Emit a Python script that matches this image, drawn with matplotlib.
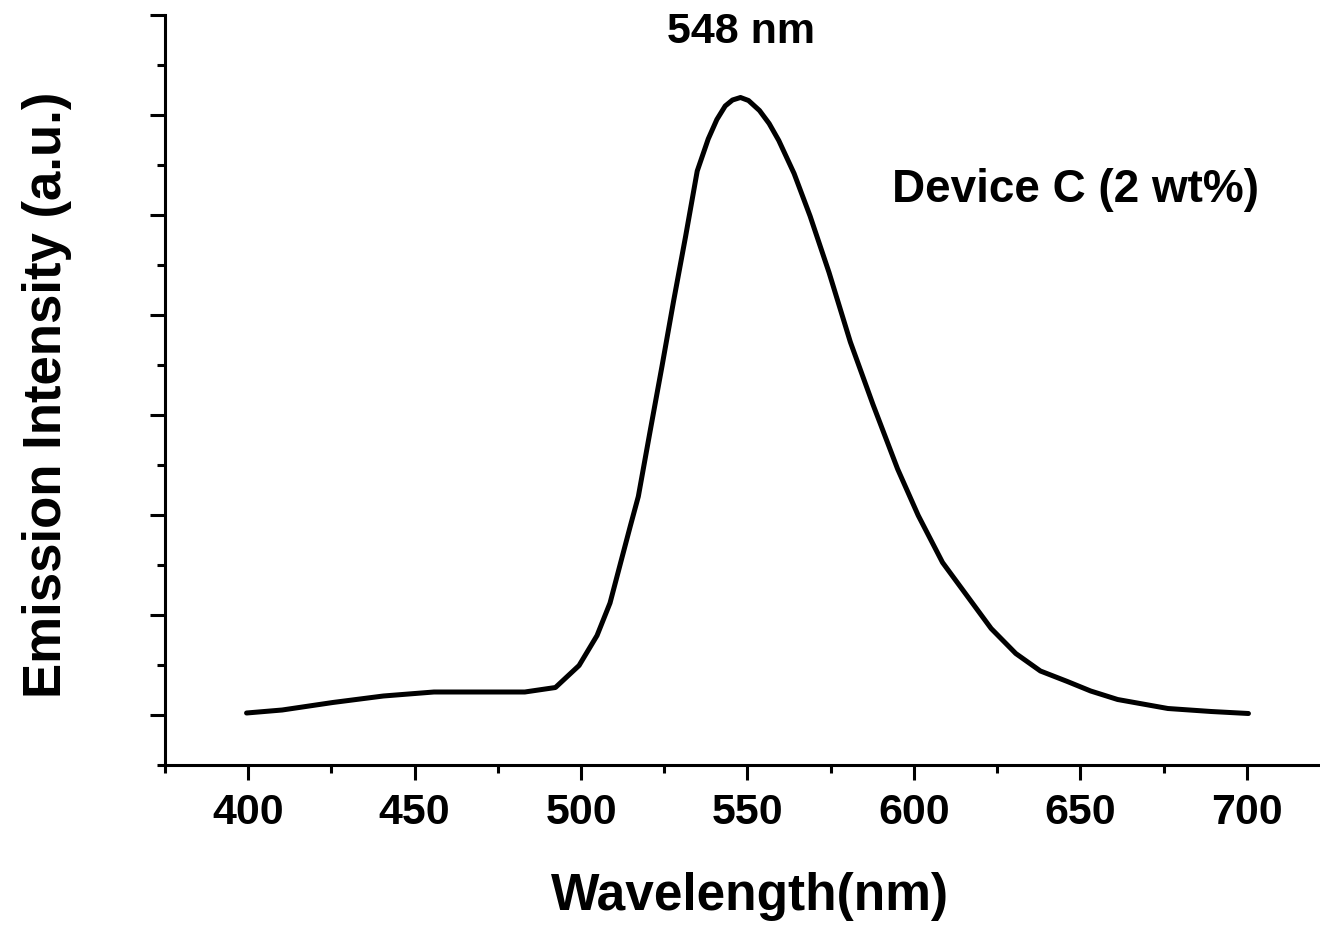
import matplotlib
matplotlib.use('Agg')
import matplotlib.pyplot as plt
from matplotlib.ticker import MultipleLocator, NullFormatter

# spectrum (intensity in arbitrary units)
wavelength = [399.5, 410.2, 425.4, 440.6, 455.8, 471.0, 483.1, 492.3, 499.4, 504.8,
              508.7, 512.1, 514.8, 517.2, 520.7, 524.3, 527.8, 531.4, 534.9, 538.2,
              540.8, 543.3, 545.5, 547.9, 550.3, 553.6, 556.5, 559.4, 564.0, 568.8,
              574.5, 580.9, 587.7, 595.1, 601.3, 608.6, 615.9, 623.2, 630.6, 638.0,
              646.1, 653.1, 661.2, 676.3, 689.3, 700.5]
intensity = [1.04, 1.10, 1.25, 1.38, 1.46, 1.46, 1.46, 1.55, 1.99, 2.59,
             3.24, 4.10, 4.78, 5.37, 6.66, 7.97, 9.28, 10.57, 11.88, 12.52,
             12.91, 13.18, 13.30, 13.35, 13.29, 13.09, 12.83, 12.49, 11.83, 10.98,
             9.85, 8.46, 7.21, 5.92, 4.99, 4.05, 3.39, 2.73, 2.23, 1.88,
             1.67, 1.48, 1.31, 1.13, 1.07, 1.03]

x_ticks = [400, 450, 500, 550, 600, 650, 700]

plt.rcParams['font.family'] = ['Liberation Sans', 'DejaVu Sans']
plt.rcParams['font.weight'] = 'bold'

W, H = 1320, 931
fig = plt.figure(figsize=(W / 100, H / 100), dpi=100)
ax = fig.add_axes([165 / W, (H - 765) / H, (W - 165) / W, 750 / H])

ax.plot(wavelength, intensity, color='black', lw=3.6,
        solid_capstyle='round', solid_joinstyle='round')

ax.set_xlim(375, 722)
ax.set_ylim(0, 15)
ax.set_xticks(x_ticks)
ax.xaxis.set_minor_locator(MultipleLocator(25))
ax.yaxis.set_major_locator(MultipleLocator(2, offset=1))
ax.yaxis.set_minor_locator(MultipleLocator(1))
ax.yaxis.set_major_formatter(NullFormatter())

for side in ['top', 'right']:
    ax.spines[side].set_visible(False)
for side in ['left', 'bottom']:
    ax.spines[side].set_linewidth(2.2)

ax.tick_params(which='major', direction='out', length=11, width=2.2)
ax.tick_params(which='minor', direction='out', length=6, width=2.2)
ax.tick_params(axis='x', labelsize=31, pad=9)

ax.set_xlabel('Wavelength(nm)', fontsize=37, fontweight='bold')
ax.xaxis.set_label_coords((750 - 165) / (W - 165), -(872 - 765) / 750)
ax.set_ylabel('Emission Intensity (a.u.)', fontsize=38, fontweight='bold')
ax.yaxis.set_label_coords(-(165 - 72) / (W - 165), (765 - 395) / 750)

ax.text(548, 14.66, '548 nm', ha='center', va='center', fontsize=31, fontweight='bold')
ax.text(1075 / W, (H - 190) / H, 'Device C (2 wt%)', transform=fig.transFigure,
        ha='center', va='center', fontsize=33, fontweight='bold')

fig.savefig('out.png', dpi=100)
